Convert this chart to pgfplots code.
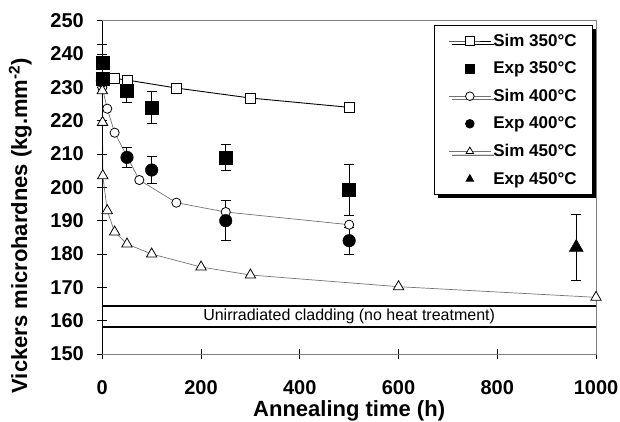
\documentclass[border=0pt]{standalone}
\usepackage{pgfplots}
\pgfplotsset{compat=1.18}
\usepackage{fontspec}
\setmainfont{Liberation Sans}
\usetikzlibrary{shadows}

\begin{document}
\begin{tikzpicture}
\begin{axis}[
  scale only axis, width=493.7pt, height=333.3pt,
  xmin=0, xmax=1000, ymin=150, ymax=250,
  xtick={0,200,...,1000}, ytick={150,160,...,250},
  xtick pos=bottom, ytick pos=left,
  tick align=center, major tick length=10pt,
  tick style={black, line width=0.8pt},
  axis line style={black!50, line width=0.8pt},
  /pgf/number format/assume math mode=true,
  /pgf/number format/1000 sep={},
  ticklabel style={font=\fontsize{20}{22}\selectfont\bfseries},
  xticklabel shift=18pt,
  yticklabel shift=10pt,
  xlabel={Annealing time (h)},
  ylabel={Vickers microhardnes (kg.mm\textsuperscript{-2})},
  label style={font=\fontsize{22}{24}\selectfont\bfseries},
  xlabel style={at={(rel axis cs:0.5,0)}, anchor=center, yshift=-57pt},
  ylabel style={at={(rel axis cs:0,0.385)}, anchor=center, yshift=82pt},
  legend style={at={(rel axis cs:0.994,0.988)}, anchor=north east,
    draw=black, line width=0.8pt, fill=white,
    font=\fontsize{17}{20}\selectfont\bfseries,
    row sep=10pt, inner xsep=14pt, inner ysep=7pt,
    general shadow={fill=black, shadow xshift=3.5pt, shadow yshift=-3.5pt}},
  legend cell align=left,
  legend image code/.code={%
    \draw[mark repeat=2,mark phase=2,#1] plot coordinates {(0pt,0pt) (21pt,0pt) (42pt,0pt)};},
  legend image post style={mark size=4.3pt},
  clip=false,
]
% Sim 350
\addplot[black, line width=0.9pt, mark=square*, mark size=5pt, mark options={fill=white, line width=0.8pt}]
coordinates {(0,233) (25,232.7) (50,232.2) (150,229.8) (300,226.8) (500,224)};
\addlegendentry{Sim 350°C}
% Exp 350
\addplot[black, only marks, mark=square*, mark size=6.5pt,
  error bars/.cd, y dir=both, y explicit,
  error bar style={line width=1pt, black},
  error mark options={rotate=90, mark size=5pt, line width=1pt, black}]
coordinates {(0,237.3) +- (0,5.7) (0,232.7) +- (0,0) (50,229) +- (0,3.5) (100,224) +- (0,4.7) (250,209) +- (0,4) (500,199.2) +- (0,7.7)};
\addlegendentry{Exp 350°C}
% Sim 400
\addplot[black!55, line width=0.7pt, mark=*, mark size=4.6pt, mark options={fill=white, draw=black, line width=0.8pt}]
coordinates {(0,230) (10,223.6) (25,216.4) (75,202.2) (150,195.4) (250,192.6) (500,188.8)};
\addlegendentry{Sim 400°C}
% Exp 400
\addplot[black, only marks, mark=*, mark size=6.3pt,
  error bars/.cd, y dir=both, y explicit,
  error bar style={line width=1pt, black},
  error mark options={rotate=90, mark size=5pt, line width=1pt, black}]
coordinates {(0,232) +- (0,0) (50,209) +- (0,3) (100,205.2) +- (0,4) (250,190) +- (0,6) (500,184) +- (0,4)};
\addlegendentry{Exp 400°C}
% Sim 450
\addplot[black!55, line width=0.7pt, mark=triangle*, mark size=6pt, mark options={fill=white, draw=black, line width=0.8pt}]
coordinates {(0,229) (0.5,219.5) (1,203.5) (10,193) (25,186.6) (50,183) (100,180) (200,176.1) (300,173.7) (600,170.2) (1000,167)};
\addlegendentry{Sim 450°C}
% Exp 450
\addplot[black, only marks, mark=triangle*, mark size=8pt,
  error bars/.cd, y dir=both, y explicit,
  error bar style={line width=1pt, black},
  error mark options={rotate=90, mark size=5pt, line width=1pt, black}]
coordinates {(960,182) +- (0,10)};
\addlegendentry{Exp 450°C}
% unirradiated band
\addplot[black, line width=2pt, forget plot] coordinates {(0,164.4) (1000,164.4)};
\addplot[black, line width=2pt, forget plot] coordinates {(0,158) (1000,158)};
\node[font=\fontsize{16}{18}\selectfont] at (axis cs:500,161.2) {Unirradiated cladding (no heat treatment)};
\draw[black, line width=0.9pt] (rel axis cs:0,1) -- (rel axis cs:0,0);
\coordinate (LL) at (rel axis cs:0,0);
\coordinate (UR) at (rel axis cs:1,1);
\end{axis}
\pgfresetboundingbox
\path[use as bounding box] ([shift={(-102.3pt,-67pt)}]LL) rectangle ([shift={(24pt,20.7pt)}]UR);
\end{tikzpicture}
\end{document}
